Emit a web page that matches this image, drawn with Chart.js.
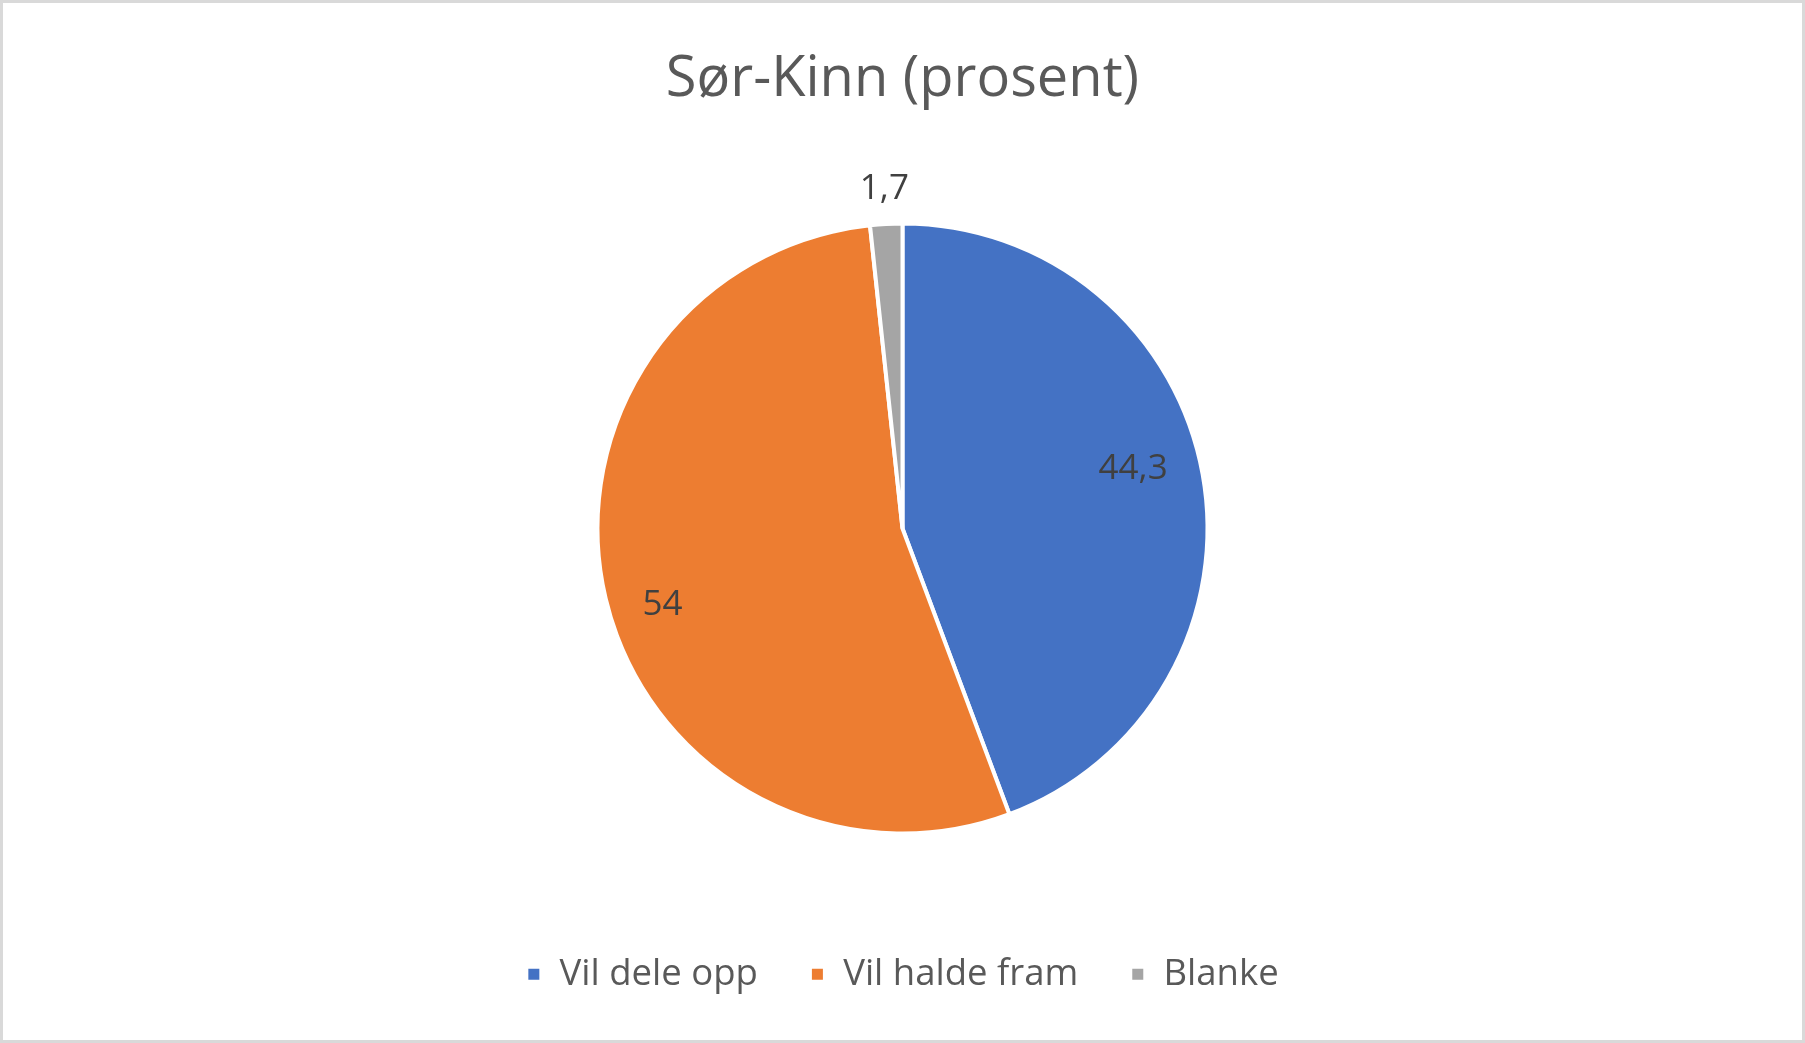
<!DOCTYPE html>
<html>
<head>
<meta charset="utf-8">
<script src="https://cdn.jsdelivr.net/npm/chart.js@4.4.1/dist/chart.umd.min.js"></script>
<style>
    html, body { margin: 0; padding: 0; background: #fff; }
    #wrap { width: 1805px; height: 1043px; position: relative; }
</style>
</head>
<body>
<div id="wrap"><canvas id="pie"></canvas></div>
<script>
const categories = ['Vil dele opp', 'Vil halde fram', 'Blanke'];
const values = [44.3, 54, 1.7];
const valueLabels = ['44,3', '54', '1,7'];
const sliceColors = ['#4472C4', '#ED7D31', '#A5A5A5'];

// data labels drawn from the arc elements (no datalabels plugin offline)
const pieLabels = {
    id: 'pieLabels',
    afterDatasetsDraw(chart) {
        const ctx = chart.ctx;
        const meta = chart.getDatasetMeta(0);
        ctx.save();
        ctx.font = '35px "Open Sans"';
        ctx.fillStyle = '#404040';
        ctx.textAlign = 'center';
        ctx.textBaseline = 'middle';
        meta.data.forEach(function (arc, i) {
            const p = arc.getProps(['x', 'y', 'startAngle', 'endAngle', 'outerRadius'], true);
            let mid = (p.startAngle + p.endAngle) / 2;
            let r;
            if (values[i] < 5) {
                r = p.outerRadius + 35;          // small slice: outside end
            } else {
                // inside end, keep the text box clear of the rim
                mid -= 4.3 * Math.PI / 180;
                const w = ctx.measureText(valueLabels[i]).width;
                r = p.outerRadius - 29 - Math.abs(Math.cos(mid)) * w / 2 - Math.abs(Math.sin(mid)) * 17;
            }
            ctx.fillText(valueLabels[i], p.x + Math.cos(mid) * r, p.y + Math.sin(mid) * r);
        });
        ctx.restore();
    }
};

const frame = {
    id: 'frame',
    beforeDraw(chart) {
        const ctx = chart.ctx;
        ctx.save();
        ctx.fillStyle = '#fff';
        ctx.fillRect(0, 0, chart.width, chart.height);
        ctx.restore();
    },
    afterDraw(chart) {
        const ctx = chart.ctx;
        ctx.save();
        ctx.strokeStyle = '#d9d9d9';
        ctx.lineWidth = 3;
        ctx.strokeRect(1.5, 1.5, chart.width - 3, chart.height - 3);
        ctx.restore();
    }
};

new Chart(document.getElementById('pie'), {
    type: 'pie',
    data: {
        labels: categories,
        datasets: [{
            data: values,
            backgroundColor: sliceColors,
            borderColor: '#ffffff',
            borderWidth: 4,
            radius: 305
        }]
    },
    options: {
        responsive: true,
        maintainAspectRatio: false,
        animation: false,
        events: [],
        layout: { padding: { top: 0, bottom: 40.5, left: 0, right: 0 } },
        plugins: {
            title: {
                display: true,
                text: 'Sør-Kinn (prosent)',
                color: '#595959',
                font: { family: '"Open Sans"', size: 56, weight: 'normal', lineHeight: 1.2 },
                padding: { top: 46, bottom: 39.9 }
            },
            legend: {
                position: 'bottom',
                labels: {
                    color: '#595959',
                    font: { family: '"Open Sans"', size: 36.5 },
                    boxWidth: 15,
                    boxHeight: 15,
                    padding: 52
                }
            },
            tooltip: { enabled: false }
        }
    },
    plugins: [frame, pieLabels]
});
</script>
</body>
</html>
